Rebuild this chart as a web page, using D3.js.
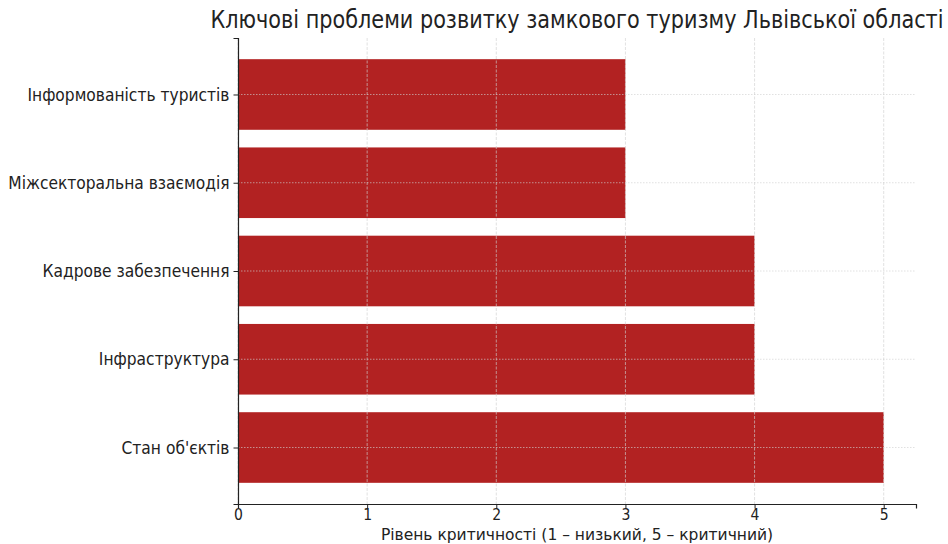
<!DOCTYPE html>
<html>
<head>
<meta charset="utf-8">
<script src="https://cdn.jsdelivr.net/npm/d3@7"></script>
<style>
  body { margin: 0; background: #fff; }
  svg { font-family: "DejaVu Sans", sans-serif; }
</style>
</head>
<body>
<div id="vis"></div>
<script>
const FRAME_WIDTH = 948;
const FRAME_HEIGHT = 544;
const MARGINS = {left: 238, right: 32, top: 38, bottom: 40};

// bottom to top, as matplotlib barh draws them
const categories = ["Стан об'єктів", "Інфраструктура", "Кадрове забезпечення",
                    "Міжсекторальна взаємодія", "Інформованість туристів"];
const values = [5, 4, 4, 3, 3];
const xTicks = [0, 1, 2, 3, 4, 5];

const VIS_WIDTH = FRAME_WIDTH - MARGINS.left - MARGINS.right;
const VIS_HEIGHT = FRAME_HEIGHT - MARGINS.top - MARGINS.bottom;
const STRETCH = 1.15; // the reference text is a bit taller than it is wide

const FRAME = d3.select("#vis")
  .append("svg")
    .attr("width", FRAME_WIDTH)
    .attr("height", FRAME_HEIGHT);

const X_SCALE = d3.scaleLinear()
  .domain([0, 5.25])
  .range([MARGINS.left, MARGINS.left + VIS_WIDTH]);

// index based, with the default 5% padding
const Y_SCALE = d3.scaleLinear()
  .domain([-0.64, 4.64])
  .range([MARGINS.top + VIS_HEIGHT, MARGINS.top]);

const BAR_H = 0.8;

// bars
FRAME.selectAll(".bar")
  .data(values)
  .enter()
  .append("rect")
    .attr("class", "bar")
    .attr("x", X_SCALE(0))
    .attr("y", (d, i) => Y_SCALE(i + BAR_H / 2))
    .attr("width", (d) => X_SCALE(d) - X_SCALE(0))
    .attr("height", Y_SCALE(0) - Y_SCALE(BAR_H))
    .attr("fill", "#b22222");

// grid (sits on top of the bars)
FRAME.selectAll(".vgrid")
  .data(xTicks)
  .enter()
  .append("line")
    .attr("x1", (d) => X_SCALE(d))
    .attr("x2", (d) => X_SCALE(d))
    .attr("y1", MARGINS.top)
    .attr("y2", MARGINS.top + VIS_HEIGHT)
    .attr("stroke", "#d0d0d0")
    .attr("stroke-opacity", 0.8)
    .attr("stroke-width", 0.8)
    .attr("stroke-dasharray", "3,1.5");

FRAME.selectAll(".hgrid")
  .data(categories)
  .enter()
  .append("line")
    .attr("x1", MARGINS.left)
    .attr("x2", MARGINS.left + VIS_WIDTH)
    .attr("y1", (d, i) => Y_SCALE(i))
    .attr("y2", (d, i) => Y_SCALE(i))
    .attr("stroke", "#d0d0d0")
    .attr("stroke-opacity", 0.8)
    .attr("stroke-width", 0.8)
    .attr("stroke-dasharray", "1.5,1.5");

// x axis
const xAxis = FRAME.append("g")
  .attr("transform", "translate(0," + (MARGINS.top + VIS_HEIGHT) + ")")
  .call(d3.axisBottom(X_SCALE).tickValues(xTicks).tickFormat(d3.format("d"))
        .tickSizeOuter(0).tickSize(4.5));
xAxis.selectAll("text")
  .attr("font-size", "14px").attr("fill", "#222")
  .attr("font-family", "DejaVu Sans")
  .attr("y", 16.5 / STRETCH).attr("dy", 0)
  .attr("transform", "scale(1," + STRETCH + ")");
xAxis.select(".domain").attr("stroke", "#222").attr("stroke-width", 1.2);
xAxis.selectAll(".tick line").attr("stroke", "#222");

// y axis
const yAxis = FRAME.append("g")
  .attr("transform", "translate(" + MARGINS.left + ",0)")
  .call(d3.axisLeft(Y_SCALE).tickValues(d3.range(categories.length))
        .tickFormat((i) => categories[i]).tickSizeOuter(0).tickSize(4.5).tickPadding(4));
yAxis.selectAll("text")
  .attr("font-size", "15.5px").attr("fill", "#222")
  .attr("font-family", "DejaVu Sans")
  .attr("transform", "scale(1," + STRETCH + ")");
yAxis.select(".domain").attr("stroke", "#222").attr("stroke-width", 1.2);
yAxis.selectAll(".tick line").attr("stroke", "#222");

// labels
FRAME.append("text")
  .attr("x", MARGINS.left + VIS_WIDTH / 2)
  .attr("y", 540)
  .attr("text-anchor", "middle")
  .attr("font-size", "15.5px")
  .attr("fill", "#222")
  .text("Рівень критичності (1 – низький, 5 – критичний)");

FRAME.append("text")
  .attr("transform", "translate(" + (MARGINS.left + VIS_WIDTH / 2) + ",28) scale(1," + STRETCH + ")")
  .attr("text-anchor", "middle")
  .attr("font-size", "20.8px")
  .attr("fill", "#222")
  .text("Ключові проблеми розвитку замкового туризму Львівської області");
</script>
</body>
</html>
